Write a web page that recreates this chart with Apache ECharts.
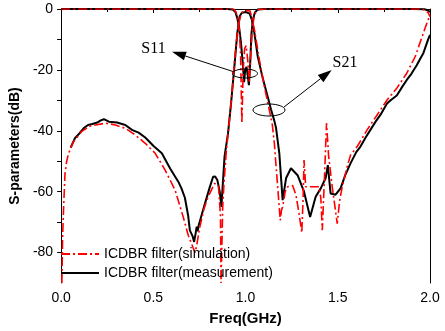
<!DOCTYPE html>
<html><head><meta charset="utf-8">
<script src="https://cdn.jsdelivr.net/npm/echarts@6/dist/echarts.min.js"></script>
<style>html,body{margin:0;padding:0;background:#fff}#c{width:445px;height:331px}</style>
</head><body><div id="c"></div>
<script>
// ---- data (frequency GHz, dB) ----
const legendNames = ['ICDBR filter(simulation)', 'ICDBR filter(measurement)'];
const xTicks = [0, 0.5, 1.0, 1.5, 2.0];
const yTicks = [-80, -60, -40, -20, 0];
const yMinorTicks = [-80, -70, -60, -50, -40, -30, -20, -10, 0];

const s21Meas = [[0.052,-45.5],[0.075,-42.4],[0.1,-40.8],[0.125,-39],[0.146,-38.1],[0.169,-37.8],[0.196,-37.3],[0.215,-36.6],[0.232,-36.2],[0.259,-37],[0.303,-37.3],[0.348,-38.1],[0.384,-39.7],[0.42,-40.6],[0.456,-42.2],[0.501,-45],[0.546,-47.4],[0.591,-52.4],[0.636,-56.8],[0.653,-59],[0.671,-62],[0.689,-68],[0.698,-72.7],[0.712,-74.5],[0.721,-76.5],[0.729,-73.8],[0.735,-71.5],[0.74,-73],[0.746,-71],[0.765,-67],[0.788,-62.2],[0.806,-58.5],[0.824,-55.1],[0.835,-55],[0.847,-56.2],[0.86,-60],[0.869,-65],[0.876,-58],[0.886,-48.5],[0.905,-40.8],[0.923,-29.9],[0.941,-17.8],[0.955,-7.9],[0.968,-2.4],[0.98,-1.2],[1.003,-1],[1.022,-1.5],[1.034,-3.5],[1.048,-7.9],[1.066,-15.6],[1.093,-22.7],[1.12,-28.8],[1.138,-33],[1.155,-36.5],[1.165,-39],[1.183,-47.4],[1.201,-62.8],[1.22,-55.5],[1.246,-52.3],[1.282,-54.6],[1.317,-60],[1.35,-68.3],[1.38,-61.7],[1.407,-59],[1.434,-55.6],[1.446,-51.3],[1.461,-60.6],[1.488,-61],[1.515,-58.9],[1.541,-54.5],[1.569,-50.7],[1.6,-47],[1.623,-45.2],[1.65,-42.3],[1.677,-39.7],[1.705,-37],[1.731,-34.8],[1.767,-31],[1.79,-29.8],[1.82,-28.4],[1.85,-25.5],[1.874,-23.3],[1.9,-21.2],[1.928,-18.5],[1.95,-16],[1.964,-14.5],[1.99,-10],[2.0,-8.5]];

const s21Sim = [[0.004,-90],[0.008,-75],[0.013,-66],[0.021,-54],[0.03,-50],[0.04,-47.5],[0.066,-43.6],[0.097,-41.4],[0.11,-40.3],[0.155,-38.5],[0.187,-38.1],[0.241,-37.5],[0.294,-38.1],[0.348,-39.2],[0.402,-41.4],[0.456,-44.1],[0.51,-47.4],[0.564,-52.9],[0.618,-59.5],[0.662,-68.3],[0.689,-74.3],[0.716,-78.5],[0.726,-80],[0.734,-78],[0.752,-71.6],[0.775,-65.5],[0.797,-61.7],[0.832,-57.3],[0.853,-58],[0.864,-68],[0.867,-90],[0.871,-80],[0.876,-65],[0.883,-57.3],[0.896,-46.3],[0.91,-38],[0.923,-29.9],[0.941,-16.7],[0.959,-5.7],[0.977,-1.3],[0.99,-0.6],[1.01,-0.5],[1.025,-0.7],[1.034,-1.3],[1.048,-6.8],[1.075,-16.7],[1.102,-25.5],[1.129,-33.2],[1.145,-38],[1.156,-44.1],[1.174,-58.4],[1.188,-69.4],[1.195,-66],[1.201,-65],[1.215,-60],[1.228,-58.4],[1.255,-58],[1.273,-61],[1.29,-67.2],[1.305,-73.5],[1.312,-62],[1.317,-49.6],[1.326,-58.4],[1.36,-58.4],[1.398,-58.4],[1.408,-62],[1.416,-72.7],[1.428,-55],[1.439,-37.5],[1.45,-48],[1.47,-58.4],[1.497,-70.5],[1.51,-63],[1.524,-58.4],[1.551,-51.8],[1.569,-48],[1.605,-45.2],[1.659,-39.7],[1.713,-34.8],[1.767,-29.9],[1.82,-26],[1.874,-21.1],[1.92,-15.6],[1.955,-9.5],[1.975,-6],[1.99,-3.5],[2.0,-2.5]];

const s11Meas = [[0,0],[0.9,0],[0.93,-0.2],[0.945,-1],[0.955,-3],[0.965,-6],[0.975,-11],[0.985,-18],[0.992,-24],[0.998,-20],[1.005,-19],[1.012,-22],[1.018,-25],[1.025,-18],[1.032,-8],[1.04,-3.5],[1.05,-1.2],[1.065,-0.2],[1.1,0],[1.9,0],[1.97,-0.1],[1.99,-0.5],[2.0,-1]];

const s11Sim = [[0,0],[0.935,0],[0.948,-1],[0.958,-3],[0.966,-7],[0.973,-15],[0.98,-37.5],[0.987,-20],[0.995,-13],[1.003,-12],[1.012,-17],[1.02,-24],[1.028,-15],[1.036,-7],[1.045,-3],[1.055,-1],[1.068,-0.2],[1.1,0],[1.955,0],[1.975,-0.4],[1.99,-1.2],[2.0,-2.5]];

const RED = '#ff0000', BLACK = '#000000';
const FONT = 'Liberation Sans, Arial, sans-serif';
const redLine = {color: RED, width: 1.6, type: [9, 3, 2, 3]};
const blackLine = {color: BLACK, width: 2, type: 'solid'};

const chart = echarts.init(document.getElementById('c'), null, {renderer: 'canvas'});
chart.setOption({
  animation: false,
  backgroundColor: '#fff',
  grid: {left: 59, right: 15, top: 9, bottom: 48, containLabel: false},
  legend: {
    data: legendNames, orient: 'vertical', left: 60, top: 247, padding: 0,
    itemWidth: 38, itemHeight: 14, itemGap: 5,
    itemStyle: {opacity: 0, color: 'rgba(0,0,0,0)', borderWidth: 0},
    textStyle: {fontSize: 14, color: '#000', fontFamily: FONT}
  },
  xAxis: [{
    type: 'value', min: 0, max: 2, interval: 0.5,
    name: 'Freq(GHz)', nameLocation: 'middle', nameGap: 28,
    nameTextStyle: {fontSize: 15, fontWeight: 'bold', color: '#000', fontFamily: FONT},
    axisLine: {show: true, lineStyle: {color: '#000', width: 1}},
    axisTick: {show: true, inside: false, length: 4, lineStyle: {color: '#000'}},
    minorTick: {show: true, splitNumber: 2, length: 3, lineStyle: {color: '#000'}},
    axisLabel: {fontSize: 14, color: '#000', fontFamily: FONT, margin: 8,
      formatter: v => xTicks.includes(v) ? v.toFixed(1) : ''},
    splitLine: {show: false}
  }, {
    type: 'value', min: 0, max: 2, position: 'top',
    axisLine: {show: true, onZero: false, lineStyle: {color: '#000', width: 1}},
    axisTick: {show: false}, axisLabel: {show: false}, splitLine: {show: false}
  }],
  yAxis: [{
    type: 'value', min: -90, max: 0,
    name: 'S-parameters(dB)', nameLocation: 'middle', nameGap: 24,
    nameTextStyle: {fontSize: 14, fontWeight: 'bold', color: '#000', fontFamily: FONT},
    axisLine: {show: true, onZero: false, lineStyle: {color: '#000', width: 1}},
    axisTick: {show: true, inside: false, length: 4, customValues: yMinorTicks, lineStyle: {color: '#000'}},
    axisLabel: {fontSize: 14, color: '#000', fontFamily: FONT, margin: 8, customValues: yTicks},
    splitLine: {show: false}
  }, {
    type: 'value', min: -90, max: 0, position: 'right',
    axisLine: {show: true, onZero: false, lineStyle: {color: '#000', width: 1}},
    axisTick: {show: false}, axisLabel: {show: false}, splitLine: {show: false}
  }],
  series: [
    {name: legendNames[1], type: 'line', data: s11Meas, symbol: 'none', lineStyle: blackLine, itemStyle: {color: BLACK}, z: 2},
    {name: legendNames[1], type: 'line', data: s21Meas, symbol: 'none', lineStyle: blackLine, itemStyle: {color: BLACK}, z: 2},
    {name: legendNames[0], type: 'line', data: s11Sim, symbol: 'none', lineStyle: redLine, itemStyle: {color: RED}, z: 3},
    {name: legendNames[0], type: 'line', data: s21Sim, symbol: 'none', lineStyle: redLine, itemStyle: {color: RED}, z: 3}
  ],
  graphic: [
    {type: 'ellipse', shape: {cx: 245, cy: 73.5, rx: 12.5, ry: 4.5}, style: {fill: 'none', stroke: '#000', lineWidth: 1}, z: 10},
    {type: 'line', shape: {x1: 233, y1: 71.5, x2: 185.3, y2: 56}, style: {stroke: '#000', lineWidth: 1}, z: 10},
    {type: 'polygon', shape: {points: [[172, 51.7], [186.7, 51.7], [183.9, 60.3]]}, style: {fill: '#000'}, z: 10},
    {type: 'text', x: 153.5, y: 49, style: {text: 'S11', font: '16px "Liberation Serif", "Times New Roman", serif', fill: '#000', align: 'center', verticalAlign: 'middle'}, z: 10},
    {type: 'ellipse', shape: {cx: 269, cy: 110, rx: 16, ry: 6}, style: {fill: 'none', stroke: '#000', lineWidth: 1}, z: 10},
    {type: 'line', shape: {x1: 284, y1: 107, x2: 320.6, y2: 78.6}, style: {stroke: '#000', lineWidth: 1}, z: 10},
    {type: 'polygon', shape: {points: [[331.7, 70], [323.4, 82.2], [317.8, 75.0]]}, style: {fill: '#000'}, z: 10},
    {type: 'text', x: 345, y: 63, style: {text: 'S21', font: '16px "Liberation Serif", "Times New Roman", serif', fill: '#000', align: 'center', verticalAlign: 'middle'}, z: 10}
  ]
});
</script></body></html>
